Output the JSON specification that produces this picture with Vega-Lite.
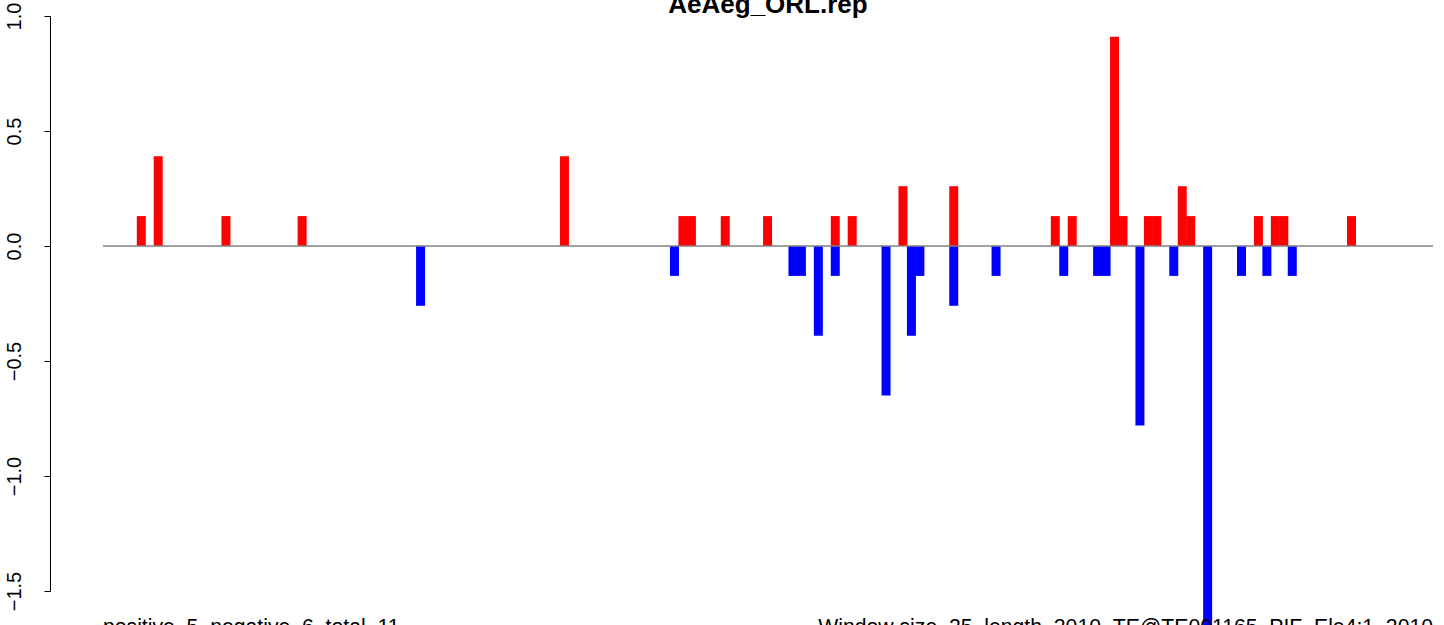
{
  "$schema": "https://vega.github.io/schema/vega-lite/v6.json",
  "autosize": {"type": "none"},
  "padding": {"left": 103, "top": 16, "right": 11, "bottom": 34},
  "width": 1330,
  "height": 575,
  "background": "white",
  "config": {"view": {"stroke": null}, "font": "Liberation Sans"},
  "datasets": {
    "bars": [
      {"pos": 0, "score": 0.13, "strand": "positive"},
      {"pos": 2, "score": 0.39, "strand": "positive"},
      {"pos": 10, "score": 0.13, "strand": "positive"},
      {"pos": 19, "score": 0.13, "strand": "positive"},
      {"pos": 50, "score": 0.39, "strand": "positive"},
      {"pos": 64, "score": 0.13, "strand": "positive"},
      {"pos": 65, "score": 0.13, "strand": "positive"},
      {"pos": 69, "score": 0.13, "strand": "positive"},
      {"pos": 74, "score": 0.13, "strand": "positive"},
      {"pos": 82, "score": 0.13, "strand": "positive"},
      {"pos": 84, "score": 0.13, "strand": "positive"},
      {"pos": 90, "score": 0.26, "strand": "positive"},
      {"pos": 96, "score": 0.26, "strand": "positive"},
      {"pos": 108, "score": 0.13, "strand": "positive"},
      {"pos": 110, "score": 0.13, "strand": "positive"},
      {"pos": 115, "score": 0.91, "strand": "positive"},
      {"pos": 116, "score": 0.13, "strand": "positive"},
      {"pos": 119, "score": 0.13, "strand": "positive"},
      {"pos": 120, "score": 0.13, "strand": "positive"},
      {"pos": 123, "score": 0.26, "strand": "positive"},
      {"pos": 124, "score": 0.13, "strand": "positive"},
      {"pos": 132, "score": 0.13, "strand": "positive"},
      {"pos": 134, "score": 0.13, "strand": "positive"},
      {"pos": 135, "score": 0.13, "strand": "positive"},
      {"pos": 143, "score": 0.13, "strand": "positive"},
      {"pos": 33, "score": -0.26, "strand": "negative"},
      {"pos": 63, "score": -0.13, "strand": "negative"},
      {"pos": 77, "score": -0.13, "strand": "negative"},
      {"pos": 78, "score": -0.13, "strand": "negative"},
      {"pos": 80, "score": -0.39, "strand": "negative"},
      {"pos": 82, "score": -0.13, "strand": "negative"},
      {"pos": 88, "score": -0.65, "strand": "negative"},
      {"pos": 91, "score": -0.39, "strand": "negative"},
      {"pos": 92, "score": -0.13, "strand": "negative"},
      {"pos": 96, "score": -0.26, "strand": "negative"},
      {"pos": 101, "score": -0.13, "strand": "negative"},
      {"pos": 109, "score": -0.13, "strand": "negative"},
      {"pos": 113, "score": -0.13, "strand": "negative"},
      {"pos": 114, "score": -0.13, "strand": "negative"},
      {"pos": 118, "score": -0.78, "strand": "negative"},
      {"pos": 122, "score": -0.13, "strand": "negative"},
      {"pos": 126, "score": -1.82, "strand": "negative"},
      {"pos": 130, "score": -0.13, "strand": "negative"},
      {"pos": 133, "score": -0.13, "strand": "negative"},
      {"pos": 136, "score": -0.13, "strand": "negative"}
    ]
  },
  "layer": [
    {
      "data": {"name": "bars"},
      "mark": {"type": "bar", "width": 9, "clip": false},
      "encoding": {
        "x": {"field": "pos", "type": "quantitative", "scale": {"domain": [-4.526, 152.63], "nice": false, "zero": false, "padding": 0}, "axis": null},
        "y": {"field": "score", "type": "quantitative", "scale": {"domain": [-1.5, 1.0], "nice": false, "zero": false},
          "axis": {"values": [-1.5, -1.0, -0.5, 0.0, 0.5, 1.0], "format": ".1f", "title": null, "grid": false, "offset": 53,
            "domainColor": "black", "domainWidth": 1, "tickColor": "black", "tickSize": 6, "tickWidth": 1,
            "labelAngle": 270, "labelFontSize": 20, "labelFont": "Liberation Sans", "labelColor": "black", "labelPadding": 20, "labelAlign": "center", "labelBaseline": "bottom", "labelFlush": false, "labelOverlap": false}},
        "color": {"field": "strand", "type": "nominal", "scale": {"domain": ["positive", "negative"], "range": ["#FF0000", "#0000FF"]}, "legend": null}
      }
    },
    {
      "data": {"values": [{}]},
      "mark": {"type": "rule", "color": "#808080", "strokeWidth": 1.3},
      "encoding": {"y": {"datum": 0, "type": "quantitative"}}
    },
    {
      "data": {"values": [{}]},
      "mark": {"type": "text", "text": "AeAeg_ORL.rep", "align": "center", "baseline": "alphabetic", "fontSize": 26, "fontWeight": "bold", "font": "Liberation Sans", "color": "black", "clip": false},
      "encoding": {
        "x": {"datum": 74.05, "type": "quantitative"},
        "y": {"datum": 1.0143, "type": "quantitative"}
      }
    },
    {
      "data": {"values": [{}]},
      "mark": {"type": "text", "text": "positive\u00a0\u00a05\u00a0\u00a0negative\u00a0\u00a06\u00a0\u00a0total\u00a0\u00a011", "align": "left", "baseline": "alphabetic", "fontSize": 21.2, "font": "Liberation Sans", "color": "black", "clip": false},
      "encoding": {
        "x": {"datum": -4.526, "type": "quantitative"},
        "y": {"datum": -1.687, "type": "quantitative"}
      }
    },
    {
      "data": {"values": [{}]},
      "mark": {"type": "text", "text": "Window\u00a0size\u00a0\u00a025\u00a0\u00a0length\u00a0\u00a02010\u00a0\u00a0TE@TE001165\u00a0\u00a0PIF\u00a0\u00a0Ele4:1\u00a0\u00a02010", "align": "right", "baseline": "alphabetic", "fontSize": 21.2, "font": "Liberation Sans", "color": "black", "clip": false},
      "encoding": {
        "x": {"datum": 152.63, "type": "quantitative"},
        "y": {"datum": -1.687, "type": "quantitative"}
      }
    }
  ]
}
